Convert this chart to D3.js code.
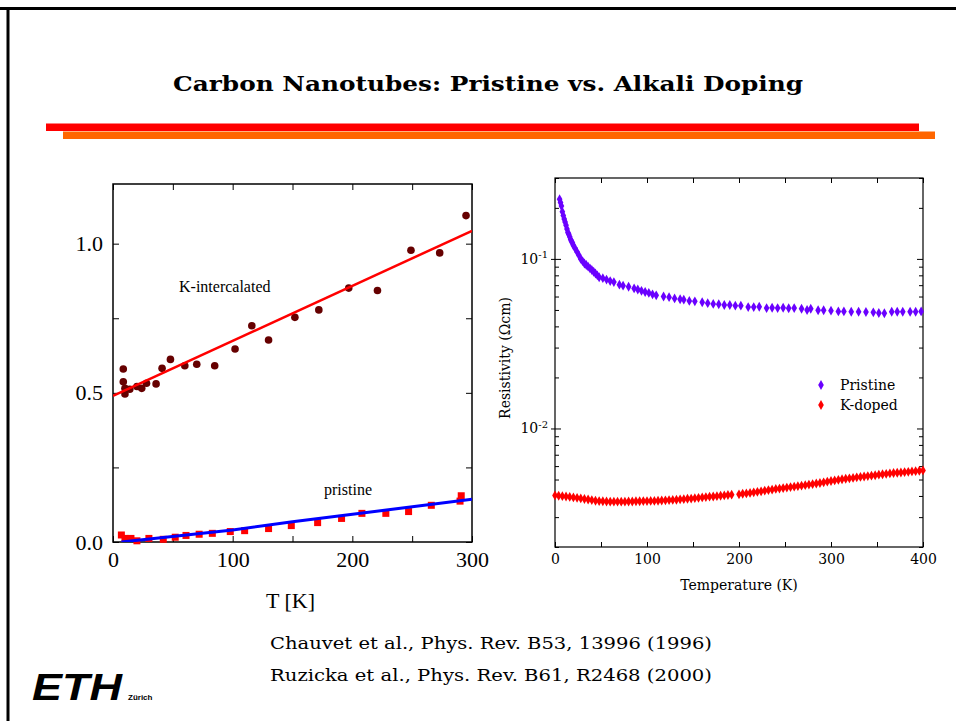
<!DOCTYPE html>
<html>
<head>
<meta charset="utf-8">
<script src="https://cdn.jsdelivr.net/npm/d3@7"></script>
<style>
  body { margin: 0; background: #fff; }
  svg { display: block; }
</style>
</head>
<body>
<svg id="mainsvg" width="956" height="721"></svg>
<script>
// left panel: K-intercalated (dots) and pristine (squares)
const kT = [8.6, 8.6, 10, 10, 14, 20, 24, 28, 36, 41, 48, 60, 70, 85, 102, 116, 130, 152, 172, 197, 221, 249, 273, 295];
const kR = [0.58, 0.537, 0.515, 0.496, 0.512, 0.521, 0.515, 0.532, 0.53, 0.582, 0.612, 0.591, 0.596, 0.591, 0.647, 0.725, 0.677, 0.753, 0.778, 0.851, 0.843, 0.978, 0.969, 1.094];
const pT = [7, 10, 15, 20, 30, 42, 52, 61, 72, 83, 98, 110, 130, 149, 171, 191, 208, 228, 247, 266, 290, 291];
const pR = [0.0235, 0.012, 0.012, 0.004, 0.012, 0.009, 0.016, 0.022, 0.026, 0.029, 0.035, 0.038, 0.045, 0.055, 0.065, 0.079, 0.096, 0.096, 0.102, 0.123, 0.137, 0.155];
const kFitT = [0, 300];
const kFitR = [0.49, 1.043];
const pFitT = [7, 100, 150, 300];
const pFitR = [0, 0.040, 0.068, 0.143];

// right panel: resistivity (Ohm cm) vs temperature (K)
const prisT = [5, 6, 7, 8, 9, 10, 11, 12, 13, 14, 15, 16, 17, 18, 19, 20, 22, 24, 26, 28, 30, 32, 34, 36, 38, 40, 42, 44, 46, 48, 52, 56, 60, 64, 70, 74, 80, 86, 90, 94, 98, 102, 106, 110, 118, 124, 130, 136, 140, 146, 152, 160, 166, 172, 178, 184, 190, 196, 202, 210, 216, 222, 230, 236, 242, 248, 254, 260, 268, 274, 278, 286, 292, 300, 308, 314, 322, 330, 338, 346, 352, 358, 366, 372, 378, 386, 392, 398];
const prisR = [0.225, 0.215, 0.205, 0.19, 0.18, 0.172, 0.165, 0.158, 0.15, 0.143, 0.14, 0.135, 0.13, 0.127, 0.124, 0.12, 0.115, 0.11, 0.105, 0.1, 0.097, 0.094, 0.092, 0.09, 0.088, 0.086, 0.084, 0.082, 0.08, 0.078, 0.077, 0.0755, 0.074, 0.073, 0.0705, 0.0695, 0.0685, 0.067, 0.066, 0.0648, 0.0638, 0.063, 0.0618, 0.061, 0.06, 0.0595, 0.0585, 0.0578, 0.0575, 0.0565, 0.0562, 0.0555, 0.0548, 0.0543, 0.054, 0.0535, 0.0535, 0.053, 0.053, 0.052, 0.052, 0.0522, 0.0513, 0.0515, 0.0513, 0.0515, 0.0512, 0.0513, 0.0508, 0.05, 0.0508, 0.0498, 0.0498, 0.0495, 0.049, 0.049, 0.0488, 0.0488, 0.0486, 0.0484, 0.048, 0.0478, 0.0488, 0.0488, 0.0488, 0.0488, 0.0488, 0.049];
const dopT = [0, 4, 8, 12, 16, 20, 24, 28, 32, 36, 40, 44, 48, 52, 56, 60, 64, 68, 72, 76, 80, 84, 88, 92, 96, 100, 104, 108, 112, 116, 120, 124, 128, 132, 136, 140, 144, 148, 152, 156, 160, 164, 168, 172, 176, 180, 184, 188, 192, 200, 204, 208, 212, 216, 220, 224, 228, 232, 236, 240, 244, 248, 252, 256, 260, 264, 268, 272, 276, 280, 284, 288, 292, 296, 300, 304, 308, 312, 316, 320, 324, 328, 332, 336, 340, 344, 348, 352, 356, 360, 364, 368, 372, 376, 380, 384, 388, 392, 396, 400];
const dopR = [0.00403, 0.00401, 0.00399, 0.00397, 0.00395, 0.00392, 0.0039, 0.00387, 0.00384, 0.00381, 0.00378, 0.00375, 0.00373, 0.00372, 0.00371, 0.0037, 0.0037, 0.0037, 0.0037, 0.0037, 0.00371, 0.00371, 0.00372, 0.00372, 0.00373, 0.00373, 0.00374, 0.00374, 0.00375, 0.00376, 0.00377, 0.00378, 0.00379, 0.0038, 0.00382, 0.00383, 0.00385, 0.00386, 0.00388, 0.0039, 0.00392, 0.00394, 0.00396, 0.00397, 0.00399, 0.00401, 0.00403, 0.00405, 0.00407, 0.00409, 0.00412, 0.00414, 0.00417, 0.0042, 0.00423, 0.00426, 0.0043, 0.00433, 0.00436, 0.0044, 0.00442, 0.00445, 0.00448, 0.00451, 0.00454, 0.00457, 0.0046, 0.00463, 0.00467, 0.0047, 0.00474, 0.00477, 0.00481, 0.00486, 0.0049, 0.00494, 0.00498, 0.00502, 0.00505, 0.00508, 0.00511, 0.00515, 0.00518, 0.00521, 0.00524, 0.00527, 0.0053, 0.00534, 0.00537, 0.0054, 0.00543, 0.00546, 0.00548, 0.0055, 0.00553, 0.00555, 0.00558, 0.0056, 0.00563, 0.00566];

const legendNames = ['Pristine', 'K-doped'];
const legendColors = ['#6a00ff', '#ff0000'];

const zip = (a, b) => a.map((v, i) => [v, b[i]]);

const svg = d3.select('#mainsvg');

// slide frame and header bars
svg.append('line').attr('x1', 0).attr('x2', 956).attr('y1', 8.5).attr('y2', 8.5)
  .attr('stroke', '#000').attr('stroke-width', 3);
svg.append('line').attr('x1', 8).attr('x2', 8).attr('y1', 7).attr('y2', 721)
  .attr('stroke', '#000').attr('stroke-width', 3);
svg.append('rect').attr('x', 46).attr('y', 123.5).attr('width', 873).attr('height', 7.5).attr('fill', '#ff0000');
svg.append('rect').attr('x', 63).attr('y', 131.5).attr('width', 872).attr('height', 7.5).attr('fill', '#ff6600');

svg.append('text').text('Carbon Nanotubes: Pristine vs. Alkali Doping')
  .attr('x', 173).attr('y', 91)
  .attr('textLength', 630).attr('lengthAdjust', 'spacingAndGlyphs')
  .style('font-family', '"DejaVu Serif", serif')
  .style('font-weight', 'bold').style('font-size', '21px');

// ---------- left panel ----------
const L = { x0: 113, x1: 472, y0: 184, y1: 542 };
const xL = d3.scaleLinear().domain([0, 300]).range([L.x0, L.x1]);
const yL = d3.scaleLinear().domain([0, 1.2]).range([L.y1, L.y0]);
const gL = svg.append('g').style('font-family', '"Liberation Serif", "Times New Roman", serif');

gL.append('clipPath').attr('id', 'clipL').append('rect')
  .attr('x', L.x0).attr('y', L.y0).attr('width', L.x1 - L.x0).attr('height', L.y1 - L.y0);

const xTicksL = d3.range(0, 301, 50);
const yTicksL = [0, 0.25, 0.5, 0.75, 1.0];

gL.append('g').attr('transform', `translate(0,${L.y1})`)
  .call(d3.axisBottom(xL).tickValues(xTicksL).tickSize(-6).tickPadding(9)
    .tickFormat(d => d % 100 === 0 ? d : ''));
gL.append('g').attr('transform', `translate(0,${L.y0})`)
  .call(d3.axisTop(xL).tickValues(xTicksL).tickSize(-6).tickFormat(''));
gL.append('g').attr('transform', `translate(${L.x0},0)`)
  .call(d3.axisLeft(yL).tickValues(yTicksL).tickSize(-6).tickPadding(10)
    .tickFormat(d => (d * 2) % 1 === 0 ? d3.format('.1f')(d) : ''));
gL.append('g').attr('transform', `translate(${L.x1},0)`)
  .call(d3.axisRight(yL).tickValues(yTicksL).tickSize(-6).tickFormat(''));
gL.selectAll('.domain').remove();
gL.selectAll('g').attr('font-family', null).attr('font-size', null);
gL.selectAll('.tick text').attr('font-size', 22).attr('fill', '#000');
gL.selectAll('.tick line').attr('stroke', '#000');

gL.append('rect').attr('x', L.x0).attr('y', L.y0)
  .attr('width', L.x1 - L.x0).attr('height', L.y1 - L.y0)
  .attr('fill', 'none').attr('stroke', '#000').attr('stroke-width', 1.5);

gL.append('g').selectAll('rect').data(zip(pT, pR)).join('rect')
  .attr('x', d => xL(d[0]) - 3.5).attr('y', d => yL(d[1]) - 3.5)
  .attr('width', 7).attr('height', 7).attr('fill', '#ff0000');
gL.append('g').selectAll('circle').data(zip(kT, kR)).join('circle')
  .attr('cx', d => xL(d[0])).attr('cy', d => yL(d[1])).attr('r', 3.8)
  .attr('fill', '#660000');

const lineL = d3.line().x(d => xL(d[0])).y(d => yL(d[1]));
gL.append('path').datum(zip(kFitT, kFitR)).attr('d', lineL)
  .attr('clip-path', 'url(#clipL)')
  .attr('fill', 'none').attr('stroke', '#ff0000').attr('stroke-width', 2.5);
gL.append('path').datum(zip(pFitT, pFitR)).attr('d', lineL)
  .attr('clip-path', 'url(#clipL)')
  .attr('fill', 'none').attr('stroke', '#0000ff').attr('stroke-width', 3);

gL.append('text').text('K-intercalated').attr('x', 179).attr('y', 292).attr('font-size', 16);
gL.append('text').text('pristine').attr('x', 324).attr('y', 495).attr('font-size', 16);
gL.append('text').text('T [K]').attr('x', (L.x0 + L.x1) / 2 - 2).attr('y', 608)
  .attr('text-anchor', 'middle').attr('font-size', 22);

// ---------- right panel ----------
const R = { x0: 555, x1: 923, y0: 178, y1: 547 };
const xR = d3.scaleLinear().domain([0, 400]).range([R.x0, R.x1]);
const yR = d3.scaleLog().domain([0.002, 0.3]).range([R.y1, R.y0]);
const gR = svg.append('g').style('font-family', '"DejaVu Serif", serif');

const xTicksR = d3.range(0, 401, 50);
const yMinor = [2, 3, 4, 5, 6, 7, 8, 9].map(k => k / 1000)
  .concat([2, 3, 4, 5, 6, 7, 8, 9].map(k => k / 100))
  .concat([0.2, 0.3]);
const yMajor = [0.01, 0.1];

gR.append('g').attr('transform', `translate(0,${R.y1})`)
  .call(d3.axisBottom(xR).tickValues(xTicksR).tickSize(-5).tickPadding(7)
    .tickFormat(d => d % 100 === 0 ? d : ''));
gR.append('g').attr('transform', `translate(0,${R.y0})`)
  .call(d3.axisTop(xR).tickValues(xTicksR).tickSize(-5).tickFormat(''));
gR.append('g').attr('transform', `translate(${R.x0},0)`)
  .call(d3.axisLeft(yR).tickValues(yMinor).tickSize(-4).tickFormat(''));
gR.append('g').attr('transform', `translate(${R.x1},0)`)
  .call(d3.axisRight(yR).tickValues(yMinor).tickSize(-4).tickFormat(''));
gR.append('g').attr('transform', `translate(${R.x0},0)`)
  .call(d3.axisLeft(yR).tickValues(yMajor).tickSize(-6).tickFormat(''));
gR.append('g').attr('transform', `translate(${R.x1},0)`)
  .call(d3.axisRight(yR).tickValues(yMajor).tickSize(-6).tickFormat(''));
const yLab = gR.append('g').attr('transform', `translate(${R.x0},0)`)
  .call(d3.axisLeft(yR).tickValues(yMajor).tickSize(4).tickPadding(3).tickFormat(''));
yLab.selectAll('.tick text').each(function (d) {
  const t = d3.select(this).text('10');
  t.append('tspan').attr('dy', '-0.55em').attr('font-size', 10).text(Math.round(Math.log10(d)));
});
gR.selectAll('.domain').remove();
gR.selectAll('g').attr('font-family', null).attr('font-size', null);
gR.selectAll('.tick text').attr('font-size', 14).attr('fill', '#000');
gR.selectAll('.tick line').attr('stroke', '#000');

gR.append('rect').attr('x', R.x0).attr('y', R.y0)
  .attr('width', R.x1 - R.x0).attr('height', R.y1 - R.y0)
  .attr('fill', 'none').attr('stroke', '#000').attr('stroke-width', 1.2);

const diamond = d3.symbol().type(d3.symbolDiamond).size(28);
const series = [zip(prisT, prisR), zip(dopT, dopR)];
series.forEach((s, i) => {
  gR.append('g').selectAll('path').data(s).join('path')
    .attr('d', diamond)
    .attr('transform', d => `translate(${xR(d[0])},${yR(d[1])})`)
    .attr('fill', legendColors[i]);
});

const leg = gR.append('g').attr('transform', 'translate(821,385)');
legendNames.forEach((name, i) => {
  leg.append('path').attr('d', diamond).attr('transform', `translate(0,${i * 20})`)
    .attr('fill', legendColors[i]);
  leg.append('text').text(name).attr('x', 19).attr('y', i * 20 + 5).attr('font-size', 14);
});

gR.append('text').text('Temperature (K)')
  .attr('x', (R.x0 + R.x1) / 2).attr('y', 590).attr('text-anchor', 'middle').attr('font-size', 14);
gR.append('text').text('Resistivity (Ωcm)')
  .attr('transform', 'translate(510,358) rotate(-90)')
  .attr('text-anchor', 'middle').attr('font-size', 14);

// ---------- footer ----------
const refs = ['Chauvet et al., Phys. Rev. B53, 13996 (1996)', 'Ruzicka et al., Phys. Rev. B61, R2468 (2000)'];
svg.append('g').selectAll('text').data(refs).join('text')
  .text(d => d)
  .attr('x', 270).attr('y', (d, i) => 649 + i * 32)
  .attr('textLength', 442).attr('lengthAdjust', 'spacingAndGlyphs')
  .style('font-family', '"DejaVu Serif", serif')
  .style('font-size', '17px');

svg.append('text').text('ETH').attr('x', 32).attr('y', 700)
  .attr('textLength', 90).attr('lengthAdjust', 'spacingAndGlyphs')
  .style('font-family', '"Liberation Sans", Arial, sans-serif')
  .style('font-weight', 'bold').style('font-style', 'italic').style('font-size', '37px');
svg.append('text').text('Zürich').attr('x', 128).attr('y', 700)
  .style('font-family', '"Liberation Sans", Arial, sans-serif')
  .style('font-weight', 'bold').style('font-size', '8px');
</script>
</body>
</html>
